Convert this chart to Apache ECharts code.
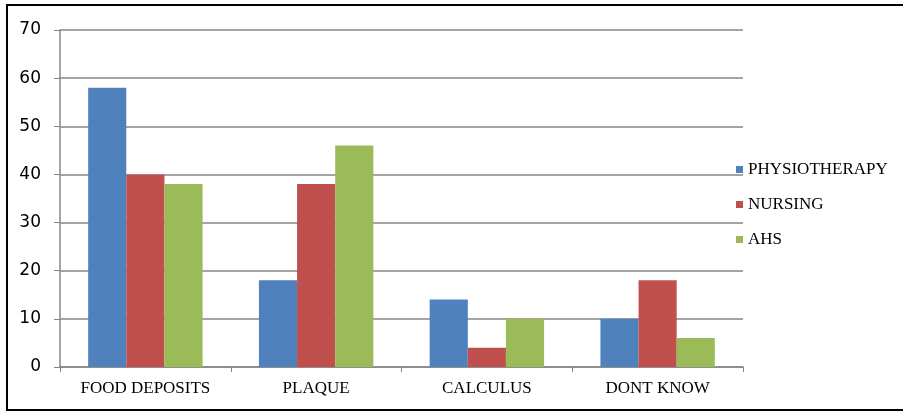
<!DOCTYPE html>
<html><head><meta charset="utf-8">
<script src="https://cdn.jsdelivr.net/npm/echarts@6/dist/echarts.min.js"></script>
<style>html,body{margin:0;padding:0;background:#fff}#c{width:903px;height:414px}</style>
</head><body><div id="c"></div>
<script>
const categories = ['FOOD DEPOSITS', 'PLAQUE', 'CALCULUS', 'DONT KNOW'];
const physiotherapy = [58, 18, 14, 10];
const nursing = [40, 38, 4, 18];
const ahs = [38, 46, 10, 6];
const yTicks = { min: 0, max: 70, interval: 10 };

const chart = echarts.init(document.getElementById('c'));
const serif = '"Liberation Serif", "Times New Roman", serif';
const mk = (name, data, color) => ({
  name, type: 'bar', data, barGap: '0%', barCategoryGap: '33%',
  itemStyle: { color }
});
chart.setOption({
  animation: false,
  graphic: [{
    type: 'rect', shape: { x: 7, y: 5, width: 1000, height: 405 },
    style: { fill: 'none', stroke: '#000', lineWidth: 2 }
  }],
  grid: { left: 60, top: 30, right: 160, bottom: 47 },
  legend: {
    orient: 'vertical', left: 731, top: 156, itemWidth: 7, itemHeight: 7, itemGap: 18,
    icon: 'rect',
    textStyle: { fontFamily: serif, fontSize: 17, color: '#000' },
    data: ['PHYSIOTHERAPY', 'NURSING', 'AHS']
  },
  xAxis: {
    type: 'category', data: categories,
    axisLine: { lineStyle: { color: '#868686', width: 1.5 } },
    axisTick: { show: true, length: 5, lineStyle: { color: '#868686' } },
    axisLabel: { fontFamily: serif, fontSize: 17, color: '#000', margin: 13 }
  },
  yAxis: {
    type: 'value', min: yTicks.min, max: yTicks.max, interval: yTicks.interval,
    axisLine: { show: true, lineStyle: { color: '#868686', width: 1.5 } },
    axisTick: { show: true, length: 6, lineStyle: { color: '#868686' } },
    axisLabel: { fontFamily: '"DejaVu Sans", "Open Sans", sans-serif', fontSize: 17, color: '#000', margin: 19 },
    splitLine: { lineStyle: { color: '#868686', width: 1.5 } }
  },
  series: [
    mk('PHYSIOTHERAPY', physiotherapy, '#4F81BD'),
    mk('NURSING', nursing, '#C0504D'),
    mk('AHS', ahs, '#9BBB59')
  ]
});
</script></body></html>
